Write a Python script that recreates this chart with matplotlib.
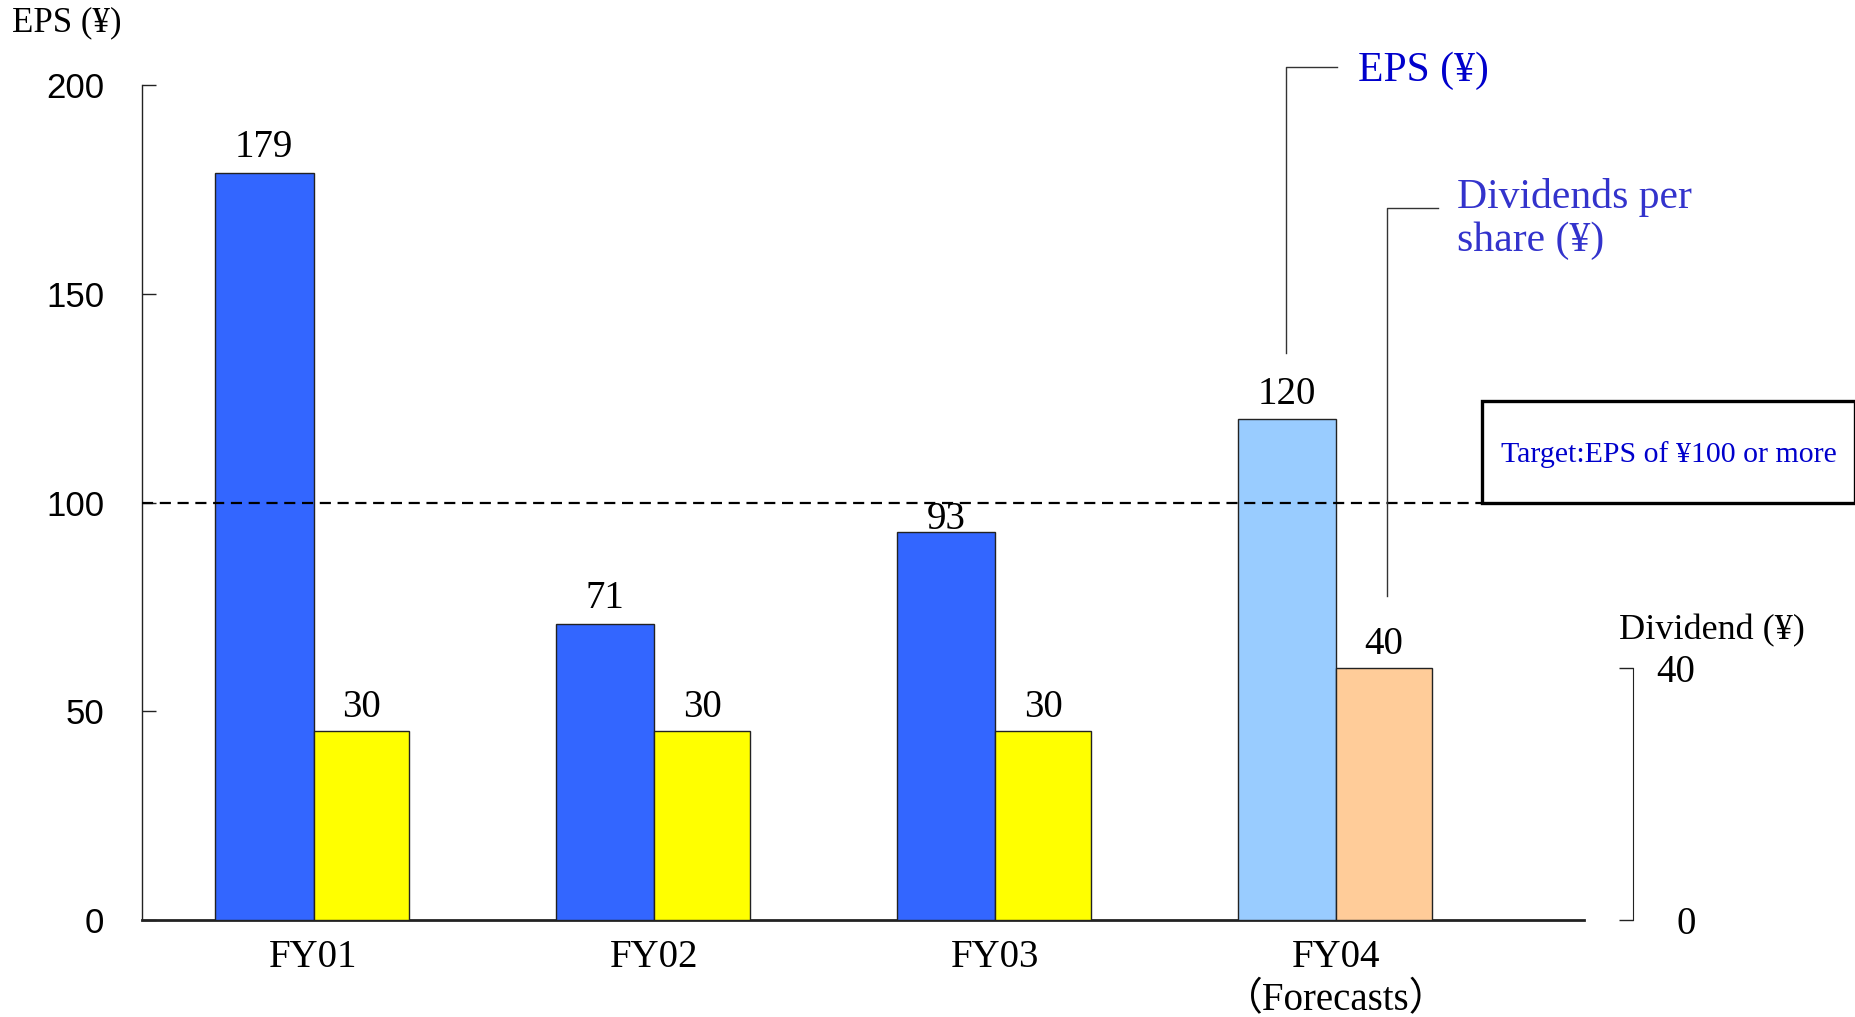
import matplotlib.pyplot as plt
from matplotlib.patches import Rectangle
import numpy as np

# ---- data ----
years = ["FY01", "FY02", "FY03", "FY04\n（Forecasts）"]
eps = [179, 71, 93, 120]
dividend = [30, 30, 30, 40]
eps_target = 100

SERIF = ["Liberation Serif", "Noto Sans CJK JP", "DejaVu Serif"]
SANS = ["Liberation Sans", "DejaVu Sans"]

eps_colors = ["#3366FF", "#3366FF", "#3366FF", "#99CCFF"]
div_colors = ["#FFFF00", "#FFFF00", "#FFFF00", "#FFCC99"]

fig = plt.figure(figsize=(18.56, 10.17), dpi=100)
ax = fig.add_axes([142 / 1856, 97 / 1017, 1442 / 1856, 835 / 1017])
ax2 = ax.twinx()

x = np.arange(len(years))
w_eps, w_div = 0.29, 0.28

ax.bar(x - w_eps / 2, eps, width=w_eps, color=eps_colors,
       edgecolor="#222222", linewidth=1, zorder=3)
ax2.bar(x + w_div / 2, dividend, width=w_div, color=div_colors,
        edgecolor="#222222", linewidth=1, zorder=3)

# value labels
eps_pad = {2: 2}
for i, v in enumerate(eps):
    ax.annotate(f"{v}", (x[i] - w_eps / 2, v), xytext=(0, eps_pad.get(i, 11)),
                textcoords="offset points", ha="center", va="baseline",
                fontsize=28, family=SERIF, zorder=5)
for i, v in enumerate(dividend):
    ax2.annotate(f"{v}", (x[i] + w_div / 2, v), xytext=(0, 10),
                 textcoords="offset points", ha="center", va="baseline",
                 fontsize=28, family=SERIF, zorder=5)

# ---- left axis (EPS) ----
ax.set_xlim(-0.503, 3.726)
ax.set_ylim(0, 200)
ax.set_yticks([0, 50, 100, 150, 200])
ax.tick_params(axis="y", direction="in", length=10, width=1, pad=27,
               labelsize=25, color="#222222")
for lab in ax.get_yticklabels():
    lab.set_family(SANS)
ax.set_xticks(x)
ax.set_xticklabels(years, fontsize=28, family=SERIF, linespacing=1.2)
ax.tick_params(axis="x", length=0, pad=14)

for s in ["top", "right"]:
    ax.spines[s].set_visible(False)
ax.spines["left"].set_color("#222222")
ax.spines["left"].set_linewidth(1)
ax.spines["bottom"].set_linewidth(2)
ax.spines["bottom"].set_color("#222222")

fig.text(12 / 1856, 1 - 23 / 1017, "EPS (¥)", fontsize=25, family=SERIF,
         ha="left", va="center")

# ---- right axis (dividend) ----
ax2.set_ylim(0, 132.5)
ax2.set_yticks([0, 40])
ax2.spines["right"].set_position(("axes", 1.034))
ax2.spines["right"].set_bounds(0, 40)
ax2.spines["right"].set_color("#222222")
for s in ["top", "left", "bottom"]:
    ax2.spines[s].set_visible(False)
ax2.tick_params(axis="y", direction="in", length=10, width=1, pad=45,
                labelsize=28, color="#222222")
for lab in ax2.get_yticklabels():
    lab.set_family(SERIF)
    lab.set_horizontalalignment("right")

fig.text(1619 / 1856, 1 - 631 / 1017, "Dividend (¥)", fontsize=26,
         family=SERIF, ha="left", va="center")

# ---- target line and box ----
ax.hlines(eps_target, -0.503, 3.427, colors="black", linestyles=(0, (5, 3)),
          linewidth=1.6, zorder=4)
ax.add_patch(Rectangle((3.427, eps_target), 1.094, 24.3, fill=False,
                       edgecolor="black", linewidth=2.4, clip_on=False, zorder=6))
ax.text(3.974, 111.5, "Target:EPS of ¥100 or more", fontsize=21.5, family=SERIF,
        color="#0000CC", ha="center", va="center", clip_on=False)

# ---- series callouts ----
ax.plot([2.853, 2.853, 3.003], [135.9, 204.3, 204.3], color="#333333",
        linewidth=1, clip_on=False, zorder=4)
ax.text(3.063, 203.5, "EPS (¥)", fontsize=30, family=SERIF, color="#0000CC",
        ha="left", va="center", clip_on=False)

ax.plot([3.147, 3.147, 3.299], [77.7, 170.5, 170.5], color="#333333",
        linewidth=1, clip_on=False, zorder=4)
ax.text(3.354, 168.0, "Dividends per\nshare (¥)", fontsize=30, family=SERIF,
        color="#3333CC", ha="left", va="center", linespacing=1.15,
        clip_on=False)

fig.savefig("out.png", dpi=100)
